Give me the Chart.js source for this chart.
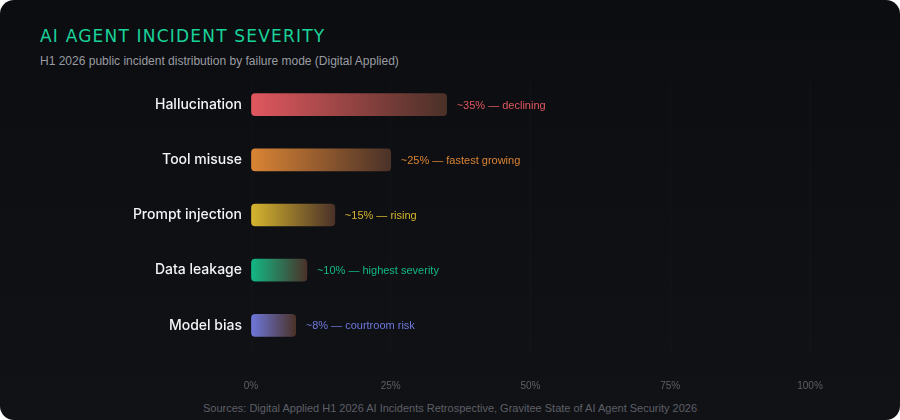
<!DOCTYPE html>
<html><head><meta charset="utf-8">
<script src="https://cdn.jsdelivr.net/npm/chart.js@4"></script>
<style>
html,body{margin:0;padding:0;background:#fff;}
#card{position:relative;width:900px;height:420px;border-radius:14px;overflow:hidden;background:linear-gradient(180deg,#0c0d10 0%,#111216 100%);font-family:"Liberation Sans",Arial,sans-serif;}
#t{position:absolute;left:40px;top:26px;color:#19d39a;font-size:17px;letter-spacing:1.2px;font-family:"DejaVu Sans",sans-serif;}
#s{position:absolute;left:40px;top:54px;color:#9a9ca3;font-size:12px;}
#src{position:absolute;left:0;width:900px;top:402px;text-align:center;color:#5d5f66;font-size:11px;}
canvas{position:absolute;left:0;top:0;}
</style></head><body>
<div id="card">
<div id="t">AI AGENT INCIDENT SEVERITY</div>
<div id="s">H1 2026 public incident distribution by failure mode (Digital Applied)</div>
<div id="src">Sources: Digital Applied H1 2026 AI Incidents Retrospective, Gravitee State of AI Agent Security 2026</div>
<canvas id="c" width="900" height="420"></canvas>
</div>
<script>
const categories=["Hallucination","Tool misuse","Prompt injection","Data leakage","Model bias"];
const shares=[35,25,15,10,8];
const notes=["~35% — declining","~25% — fastest growing","~15% — rising","~10% — highest severity","~8% — courtroom risk"];
const colors=["#e0575f","#da8434","#d6b52e","#12b985","#6e78dc"];
const xTicks=[0,25,50,75,100];

const labelPlugin={id:"lbl",afterDatasetsDraw(ch){
  const ctx=ch.ctx;const meta=ch.getDatasetMeta(0);
  ctx.save();ctx.font="11px 'Liberation Sans',Arial,sans-serif";ctx.textBaseline="middle";
  meta.data.forEach((b,i)=>{ctx.fillStyle=colors[i];ctx.fillText(notes[i],b.x+10,b.y+1);});
  ctx.restore();}};

new Chart(document.getElementById("c"),{
  type:"bar",
  data:{labels:categories,datasets:[{data:shares,barThickness:22,borderRadius:4,borderSkipped:false,
    backgroundColor(ctx){
      const ch=ctx.chart;if(!ch.chartArea)return colors[ctx.dataIndex];
      const xs=ch.scales.x;const x0=xs.getPixelForValue(0);const x1=xs.getPixelForValue(shares[ctx.dataIndex]);
      const g=ch.ctx.createLinearGradient(x0,0,x1,0);
      g.addColorStop(0,colors[ctx.dataIndex]);g.addColorStop(1,"#4a3128");return g;}}]},
  options:{indexAxis:"y",responsive:false,animation:false,
    layout:{padding:{top:77,right:90,bottom:22,left:0}},
    plugins:{legend:{display:false},tooltip:{enabled:false}},
    scales:{
      x:{min:0,max:100,afterFit(s){s.height=45;},
        afterBuildTicks(s){s.ticks=xTicks.map(v=>({value:v}));},
        ticks:{color:"#5d5f66",font:{size:10,family:"'Liberation Sans',Arial"},padding:27,callback:v=>v+"%"},
        grid:{color:"rgba(255,255,255,0.02)",drawTicks:false},border:{display:false}},
      y:{afterFit(s){s.width=251;},
        ticks:{color:"#f4f4f6",font:{size:14,weight:"500",family:"Inter,'Liberation Sans',Arial"},padding:1},
        grid:{display:false},border:{display:false}}
    }},
  plugins:[labelPlugin]
});
</script></body></html>
